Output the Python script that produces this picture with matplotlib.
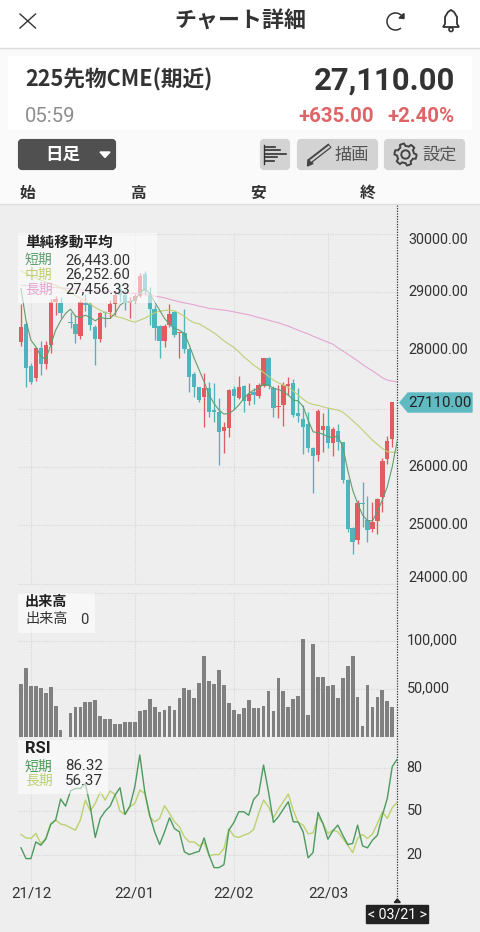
import numpy as np
import matplotlib
matplotlib.use("Agg")
import matplotlib.pyplot as plt
from matplotlib.patches import FancyBboxPatch, Polygon, Rectangle, Circle, Arc

nan = float("nan")
open_ = [28143,28440,27732,27515,28029,27761,28086,28828,28811,nan,28486,28446,28240,28811,28788,28400,28200,28657,28657,28788,
         29057,28943,28811,28840,28931,29314,28971,28714,28417,28160,28429,28657,28286,28297,28012,27589,27361,27201,27344,26973,
         26944,26607,26670,27327,27172,27384,27127,27287,27218,27389,27858,27344,27018,27058,27384,27441,26915,26813,26727,26327,
         26202,26630,26699,26402,26613,26419,25774,24946,24746,25374,25088,24928,25077,25477,26133,26470,nan]
high = [28788,28486,27772,28058,28160,28160,28885,28925,28914,nan,28657,28600,28857,28971,28828,28429,28657,28668,28857,29028,
        29114,29028,28914,28971,29325,29359,29085,28771,28440,28457,28788,28668,28314,28714,28029,27629,27372,27601,27458,27429,
        27172,26773,27327,27384,27561,27401,27429,27344,27441,27858,27875,27384,27401,27458,27544,27498,27344,27058,26944,26345,
        26990,26915,27001,26687,26727,26430,25785,24974,25431,25745,25505,25391,25459,26145,26533,27115,nan]
low = [28075,27372,27412,27475,27572,27681,27955,28600,28560,nan,28383,28115,28200,28674,28343,27743,28143,28400,28560,28600,
       28828,28686,28543,28811,28914,28943,28429,28172,27858,28058,28400,28229,27858,27960,27287,27201,27104,26687,26847,26773,
       26030,26230,26504,26984,27161,26944,27058,27070,27184,27372,27332,26847,26830,26699,27230,26847,26773,26219,26259,25545,
       26105,26247,26316,26190,26287,25728,24888,24506,24677,24974,24717,24888,24843,25231,26042,26344,nan]
close = [28400,27698,27458,28029,27761,28086,28828,28885,28629,nan,28463,28274,28828,28771,28429,28189,28640,28629,28788,28943,
         28943,28811,28828,28931,29268,29011,28703,28383,28160,28417,28617,28257,28297,28012,27544,27361,27144,27344,26944,26944,
         26601,26687,27315,27212,27372,27132,27241,27230,27395,27858,27384,27001,27041,27401,27418,26887,26870,26687,26316,26190,
         26961,26699,26413,26647,26430,25774,24928,24717,25374,25357,24917,25060,25442,26105,26442,27110,nan]
ma_short = [29057,28514,28172,28058,27898,27841,28086,28343,28503,28629,28703,28583,28560,28600,28560,28503,28560,28543,28543,28629,
            28771,28828,28828,28857,28971,29057,28971,28828,28686,28543,28446,28372,28343,28286,28086,27858,27658,27458,27230,27087,
            26973,26904,26915,26973,27058,27172,27258,27315,27344,27418,27401,27344,27327,27287,27230,27144,27132,27030,26801,26601,
            26584,26561,26516,26504,26527,26345,25945,25602,25374,25174,25077,25077,25231,25431,25659,26002,26443]
ma_mid = [29359,29314,29274,29239,29200,29171,29142,29114,29074,29028,28983,28943,28885,28840,28788,28731,28686,28646,28617,28583,
          28560,28537,28503,28480,28514,28549,28594,28640,28668,28680,28686,28674,28629,28583,28514,28470,28450,28400,28350,28297,
          28229,28160,28103,28046,27972,27886,27818,27743,27686,27618,27555,27487,27441,27401,27361,27298,27230,27161,27098,27070,
          27053,27030,27007,26990,26973,26938,26870,26790,26716,26630,26544,26459,26385,26316,26259,26247,26253]
ma_long = [29114,29108,29102,29097,29091,29085,29080,29074,29068,29062,29051,29045,29034,29028,29022,29017,29011,29005,28999,28994,
           28988,28982,28977,28971,28971,28965,28948,28925,28914,28897,28874,28851,28828,28811,28794,28777,28754,28737,28714,28708,
           28697,28686,28674,28657,28640,28623,28606,28583,28560,28537,28514,28491,28469,28440,28412,28377,28343,28309,28280,28240,
           28206,28172,28137,28103,28040,27989,27932,27875,27818,27755,27698,27646,27589,27527,27487,27470,27456]
volume = [54444,71545,52699,53048,50605,45370,51303,32108,6980,0,24430,31061,30712,35947,36296,37692,20940,18148,17799,12913,
          12913,15356,15356,15356,26524,27920,39437,31061,25128,27222,31759,27920,40135,50605,48860,40135,55491,84458,57934,54444,
          69800,53746,35249,27920,23383,30014,37692,29316,29316,31759,47464,26524,61424,47813,31061,39088,41880,101908,22685,96673,
          61773,62471,52699,53746,40135,61424,73290,84458,40833,10819,53397,31061,41531,48860,37343,31061,0]
rsi_short = [24.7,17.2,17.2,28.8,26.5,30.7,40.9,44,58.6,53.7,64.2,66,66,69.5,53.3,31.9,45.1,50.2,53.7,61.4,
             66.5,47.9,53.7,67.2,89.3,63.7,47.4,35.8,27,35.8,45.6,38.1,35.8,21.9,20,21.2,22.3,31.6,19.5,10.9,
             10.9,13,37,42.3,49.8,49.8,47.4,58.4,62.1,82.3,63.7,42.3,46.3,51.6,56.7,42.8,42.6,35.8,17.7,21.4,
             49.3,41.6,30.7,36.5,40.5,33.5,27,27.7,40.5,26,24.7,30,33.5,47.4,59.1,81.2,86.32]
rsi_long = [34,31.6,31.2,34.7,27.7,31.2,41.6,44,41.2,40.5,38.6,37,44,57.9,50.2,55.6,63.7,57.9,64.2,61.9,
            50.2,47.9,53.3,55.6,64.9,62.6,46.3,42.8,45.1,54,48.6,42.8,39.3,32.3,28.8,28.8,26,28.4,19.1,20,
            20,24.2,38.1,32.8,31.9,33.5,34.7,37.4,48.6,57.9,53.3,45.6,51.6,56.7,62.1,50.9,42.3,40.5,34.4,35.1,
            46.3,41.6,34.7,37,35.8,31.2,26.5,21.4,31.2,34,31.2,34.2,41.6,49.8,45.1,52.6,56.37]
price_ticks = [24000,25000,26000,27000,28000,29000,30000]
price_labels = ["24000.00","25000.00","26000.00","","28000.00","29000.00","30000.00"]
vol_ticks = [50000,100000]
vol_labels = ["50,000","100,000"]
rsi_ticks = [20,50,80]
date_pos = [2,23,43,62]
date_labels = ["21/12","22/01","22/02","22/03"]
last_price = "27110.00"

JP = ["Noto Sans CJK JP", "DejaVu Sans"]
NUM = ["Roboto", "Noto Sans CJK JP", "DejaVu Sans"]
RED, TEAL = "#E25B60", "#4FB4BC"
C_S, C_M, C_L = "#5F9E6F", "#C2CE74", "#E3A6D0"
R_S, R_L = "#4C9A5E", "#BBD26E"
BG = "#EEEEEE"
TXT = "#333333"
GRID = "#D6D6D6"

W, H = 480, 932
fig = plt.figure(figsize=(4.8, 9.32), dpi=100, facecolor=BG)

def pax(x0, y0, x1, y1, **kw):
    return fig.add_axes([x0/W, 1-y1/H, (x1-x0)/W, (y1-y0)/H], **kw)

x = np.arange(len(close))
XL = ((18-21)/4.95, (397.3-21)/4.95)
XR = 397.3

def style(ax, ylim):
    ax.set_facecolor("none")
    ax.set_xlim(*XL)
    ax.set_ylim(*ylim)
    for s in ax.spines.values():
        s.set_visible(False)
    ax.tick_params(length=0, labelsize=10.2, colors=TXT, pad=0)
    ax.yaxis.tick_right()
    ax.set_xticks(date_pos)
    ax.set_xticklabels([])
    for t in date_pos:
        ax.axvline(t, color=GRID, lw=0.8, ls=(0, (1, 1.3)), zorder=0)

# price panel
ax = pax(18, 233.5, XR, 583.5)
style(ax, (24000, 30000))
ax.set_yticks(price_ticks)
ax.set_yticklabels([])
for t in price_ticks:
    ax.axhline(t, color=GRID, lw=0.8, ls=(0, (1, 1.3)), zorder=0, clip_on=False)
o, h, l, c = map(lambda a: np.array(a, float), (open_, high, low, close))
up = c >= o
cols = np.where(up, RED, TEAL)
ax.vlines(x, l, h, colors=cols, lw=0.95, zorder=2)
ax.bar(x, np.maximum(np.abs(c-o), 25), bottom=np.minimum(o, c), width=0.88, color=cols, zorder=2)
ax.plot(x, ma_long, color=C_L, lw=0.8, zorder=3)
ax.plot(x, ma_mid, color=C_M, lw=0.8, zorder=3)
ax.plot(x, ma_short, color=C_S, lw=0.8, zorder=3)

# volume panel
av = pax(18, 593, XR, 736.5)
style(av, (0, 149800))
av.set_yticks(vol_ticks)
av.set_yticklabels([])
for t in vol_ticks + [149800]:
    av.axhline(t, color=GRID, lw=0.8, ls=(0, (1, 1.3)), zorder=0, clip_on=False)
av.bar(x, volume, width=0.76, color="#808080", zorder=2)

# rsi panel
ar = pax(18, 737, XR, 883.3)
style(ar, (0, 101.8))
ar.set_yticks(rsi_ticks)
ar.set_yticklabels([])
for t in rsi_ticks + [0.2]:
    ar.axhline(t, color=GRID, lw=0.8, ls=(0, (1, 1.3)), zorder=0)
ar.plot(x, rsi_long, color=R_L, lw=1.0, zorder=3)
ar.plot(x, rsi_short, color=R_S, lw=1.0, zorder=3)

# overlay in pixel coordinates
ov = fig.add_axes([0, 0, 1, 1], zorder=10)
ov.set_xlim(0, W); ov.set_ylim(H, 0); ov.axis("off"); ov.patch.set_alpha(0)

def T(xp, yp, s, size, color=TXT, ha="left", fam=JP, weight="normal"):
    ov.text(xp, yp, s, fontsize=size, color=color, ha=ha, va="center", family=fam, weight=weight)

# right axis labels (the 27000 label sits behind the price tag)
for t, s in zip(price_ticks, price_labels):
    yp = 583.5 - (t-24000)/6000*350
    if s:
        T(408, min(max(yp-0.3, 239.5), 578.5), s, 10.4, fam=NUM)
for t, s in zip(vol_ticks, vol_labels):
    T(406.5, 736.5-t/149800*143.5-0.5, s, 10.4, fam=NUM)
for t in rsi_ticks:
    T(406.5, 883.3-t/101.8*146.3, str(t), 10.4, fam=NUM)
for t, s in zip(date_pos, date_labels):
    T(21+4.95*t, 894, s, 10.8, ha="center", fam=NUM)

# crosshair and date chip
ov.plot([XR, XR], [205, 902], color="#333333", lw=0.9, ls=(0, (1, 1.1)))
ov.add_patch(Polygon([[XR-3, 902.5], [XR+3, 902.5], [XR, 899]], color="#222222"))
ov.add_patch(Rectangle((366, 905), 62, 18, color="#222222"))
T(397, 914.5, "< 03/21 >", 10.2, "white", "center", NUM)

# price tag
ov.add_patch(Polygon([[400, 402.5], [408, 393], [472, 393], [472, 412], [408, 412]], color="#5FBAC2"))
T(408.5, 403, last_price, 10.8, "#222222", fam=NUM)

# legends
ov.add_patch(Rectangle((18, 233), 139, 70, color="white", alpha=0.55, lw=0))
T(25, 242, "単純移動平均", 10.5, "#222222", weight="bold")
for i, (n, col, v) in enumerate([("短期", C_S, "26,443.00"), ("中期", C_M, "26,252.60"), ("長期", C_L, "27,456.33")]):
    T(25, 260+14.7*i, n, 10, col)
    T(65, 260+14.7*i, v, 10.6, TXT, fam=NUM)
ov.add_patch(Rectangle((18, 593), 77, 40, color="white", alpha=0.55, lw=0))
T(25, 601.5, "出来高", 10.2, "#222222", weight="bold")
T(25, 619.5, "出来高", 10.2, TXT)
T(80, 619.5, "0", 10.6, TXT, fam=NUM)
ov.add_patch(Rectangle((18, 740), 90, 54, color="white", alpha=0.55, lw=0))
T(25, 748.5, "RSI", 12, "#222222", fam=NUM, weight="bold")
for i, (n, col, v) in enumerate([("短期", R_S, "86.32"), ("長期", R_L, "56.37")]):
    T(25, 766.5+14.5*i, n, 10, col)
    T(65, 766.5+14.5*i, v, 10.8, TXT, fam=NUM)

# app chrome
ov.add_patch(Rectangle((0, 0), W, 48, color="white", lw=0, zorder=-1))
ov.add_patch(Rectangle((0, 48), W, 156, color="#FAFAFA", lw=0, zorder=-1))
ov.plot([0, W], [48, 48], color="#DDDDDD", lw=1)
ov.plot([0, W], [203.5, 203.5], color="#DEDEDE", lw=1)
ov.add_patch(Rectangle((8, 56), 464, 74, color="white", lw=0, zorder=-0.5))
ov.plot([20, 35.5], [14, 28], color="#333333", lw=1.0)
ov.plot([35.5, 20], [14, 28], color="#333333", lw=1.0)
T(240, 21.5, "チャート詳細", 15.8, "#333333", "center", weight="bold")
ov.add_patch(Arc((395.5, 21.5), 17, 17, theta1=-310, theta2=-25, color="#333333", lw=1.1))
ov.add_patch(Polygon([[404, 13.5], [404, 18.5], [399, 18]], color="#333333"))
ov.add_patch(Polygon([[443, 27], [445, 24], [445, 17], [448, 12], [451, 10], [454, 12], [457, 17], [457, 24], [459, 27]],
                     closed=True, fill=False, ec="#333333", lw=1.3))
ov.add_patch(Circle((451, 29.5), 2, fc="none", ec="#333333", lw=1.2))

T(25, 80, "225先物CME(期近)", 15.6, "#333333", weight="bold")
T(25, 116, "05:59", 14.6, "#8E8E8E", fam=NUM)
T(455, 80.5, "27,110.00", 22.4, "#333333", "right", NUM, "bold")
T(374, 116, "+635.00", 14.7, "#DF6468", "right", NUM, "bold")
T(455, 116, "+2.40%", 14.7, "#DF6468", "right", NUM, "bold")

def btn(x0, x1, col):
    ov.add_patch(FancyBboxPatch((x0+2, 141), x1-x0-4, 27, boxstyle="round,pad=0,rounding_size=2",
                                mutation_aspect=1, fc=col, ec=col, lw=3))
btn(18, 116, "#505050")
T(63, 154.5, "日足", 12.6, "white", "center", weight="bold")
ov.add_patch(Polygon([[100, 152], [110, 152], [105, 157.5]], color="white"))
btn(260, 290, "#D3D3D3"); btn(297, 378, "#D3D3D3"); btn(384, 465, "#D3D3D3")
ov.plot([264, 264], [145, 164], color="#333333", lw=1)
for yy, xe in zip([146.5, 150, 153.5, 157, 160.5], [275, 280, 286, 277, 274]):
    ov.plot([265, xe], [yy, yy], color="#333333", lw=1.2)
ov.plot([310, 330], [161, 145.5], color="#444444", lw=3.8, solid_capstyle="butt")
ov.plot([310.5, 329.5], [161, 146.3], color="#D3D3D3", lw=1.5, solid_capstyle="butt")
ov.add_patch(Polygon([[307.5, 166], [308, 159.5], [313, 163.5]], color="#444444"))
T(352, 155, "描画", 12.4, "#555555", "center")
ang = np.linspace(0, 2*np.pi, 49)[:-1]
rad = np.where(np.arange(48) % 8 < 4, 11, 8.5)
ov.add_patch(Polygon(np.c_[405.5+rad*np.cos(ang), 154.5+rad*np.sin(ang)], fill=False, ec="#444444", lw=1.4))
ov.add_patch(Circle((405.5, 154.5), 4.2, fc="none", ec="#444444", lw=1.4))
T(440, 155, "設定", 12.4, "#555555", "center")
for xp, s in [(19, "始"), (130, "高"), (250, "安"), (360, "終")]:
    T(xp, 192.5, s, 11.3, "#333333", weight="bold")

fig.savefig("out.png", dpi=100, facecolor=BG)
